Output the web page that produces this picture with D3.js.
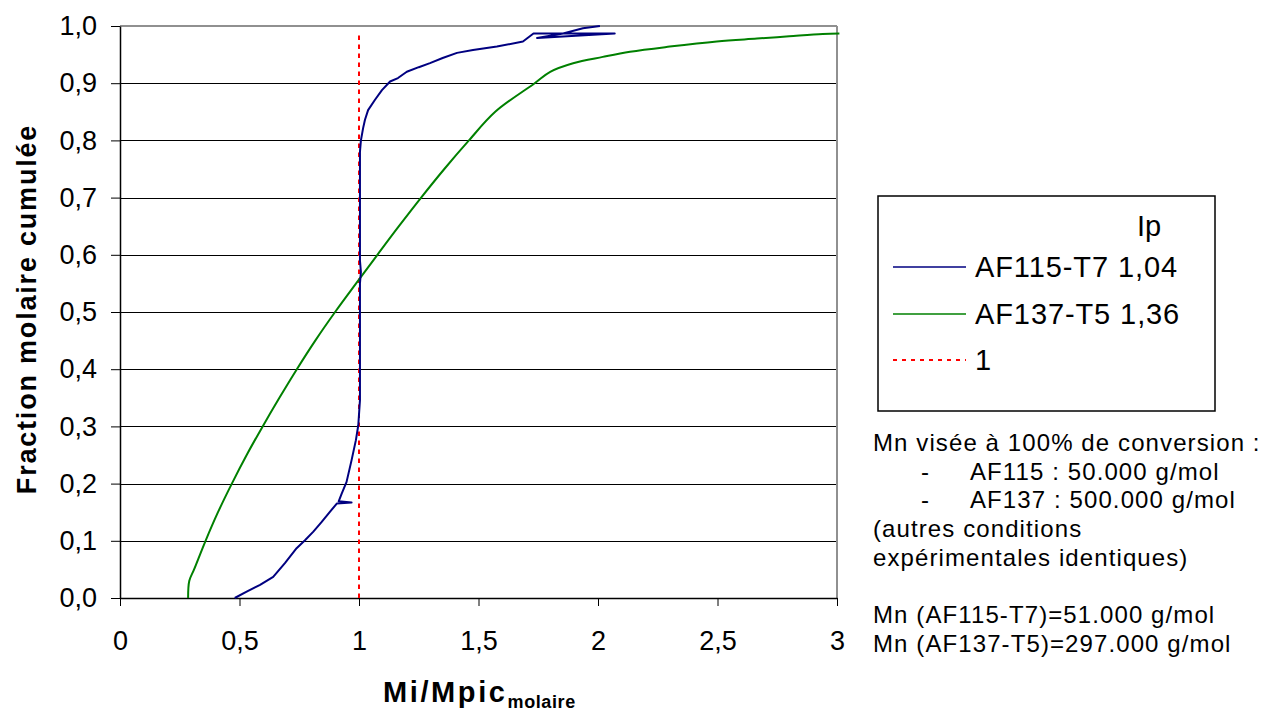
<!DOCTYPE html>
<html>
<head>
<meta charset="utf-8">
<script src="https://cdn.jsdelivr.net/npm/d3@7"></script>
<style>
  body { margin: 0; background: #fff; }
  svg { display: block; }
  text { font-family: "Liberation Sans", Arial, sans-serif; fill: #000; }
</style>
</head>
<body>
<svg id="chart" width="1270" height="715"></svg>
<script>
// ---------- data ----------
const xTickValues = [0, 0.5, 1, 1.5, 2, 2.5, 3];
const xTickLabels = ["0", "0,5", "1", "1,5", "2", "2,5", "3"];
const yTickValues = [0, 0.1, 0.2, 0.3, 0.4, 0.5, 0.6, 0.7, 0.8, 0.9, 1.0];
const yTickLabels = ["0,0", "0,1", "0,2", "0,3", "0,4", "0,5", "0,6", "0,7", "0,8", "0,9", "1,0"];

const seriesNames = ["AF115-T7 1,04", "AF137-T5 1,36", "1"];
const legendTitle = "Ip";

// AF115-T7 (Mi/Mpic, cumulative molar fraction)
const af115X = [0.48, 0.53, 0.586, 0.641, 0.69, 0.739, 0.774, 0.809, 0.844, 0.879, 0.907, 0.969, 0.915,
  0.928, 0.948, 0.969, 0.987, 0.997, 1.004, 1.004, 1.004, 1.008, 1.004, 1.004, 1.004, 1.008,
  1.017, 1.025, 1.038, 1.067, 1.096, 1.13, 1.163, 1.20, 1.25, 1.297, 1.35, 1.41, 1.477, 1.577, 1.686,
  1.73, 2.07, 1.745, 1.80, 1.854, 1.937, 2.008];
const af115Y = [0.0, 0.011, 0.023, 0.037, 0.061, 0.087, 0.101, 0.116, 0.133, 0.151, 0.165, 0.167, 0.169,
  0.183, 0.203, 0.241, 0.276, 0.302, 0.346, 0.45, 0.55, 0.57, 0.59, 0.70, 0.78, 0.80,
  0.821, 0.836, 0.853, 0.871, 0.888, 0.903, 0.909, 0.92, 0.928, 0.935, 0.944, 0.953, 0.958, 0.964, 0.973,
  0.987, 0.987, 0.979, 0.983, 0.987, 0.996, 1.0];

// AF137-T5
const af137X = [0.285, 0.29, 0.31, 0.358, 0.41, 0.468, 0.53, 0.597, 0.667, 0.74, 0.817, 0.90,
  0.988, 1.077, 1.167, 1.26, 1.357, 1.46, 1.57, 1.735, 1.80, 1.896, 2.02, 2.134, 2.30, 2.497,
  2.665, 2.80, 2.94, 3.01];
const af137Y = [0.0, 0.03, 0.05, 0.1, 0.15, 0.2, 0.25, 0.3, 0.35, 0.4, 0.45, 0.5,
  0.55, 0.6, 0.65, 0.70, 0.75, 0.8, 0.85, 0.9, 0.92, 0.935, 0.946, 0.955, 0.964, 0.973,
  0.978, 0.982, 0.986, 0.987];

// reference line x = 1
const refX = [1, 1];
const refY = [0, 0.99];

const notesLines = [
  "Mn visée à 100% de conversion :",
  "-\tAF115 : 50.000 g/mol",
  "-\tAF137 : 500.000 g/mol",
  "(autres conditions",
  "expérimentales identiques)",
  "",
  "Mn (AF115-T7)=51.000 g/mol",
  "Mn (AF137-T5)=297.000 g/mol"
];

// ---------- layout ----------
const svg = d3.select("#chart");
const plot = { left: 120, right: 837, top: 26, bottom: 598 };
const x = d3.scaleLinear().domain([0, 3]).range([plot.left, plot.right]);
const y = d3.scaleLinear().domain([0, 1]).range([plot.bottom, plot.top]);
const colors = ["#000080", "#008000", "#ff0000"];
const FONT = '"Liberation Sans", Arial, sans-serif';

// gridlines
svg.append("g").selectAll("line")
  .data(yTickValues.filter(v => v > 0 && v < 1))
  .join("line")
  .attr("x1", plot.left).attr("x2", plot.right)
  .attr("y1", d => Math.round(y(d)) + 0.5).attr("y2", d => Math.round(y(d)) + 0.5)
  .attr("stroke", "#000").attr("stroke-width", 1);

// top & right border (gray)
svg.append("line").attr("x1", plot.left).attr("x2", plot.right)
  .attr("y1", y(1)).attr("y2", y(1)).attr("stroke", "#909090").attr("stroke-width", 2);
svg.append("line").attr("x1", plot.right).attr("x2", plot.right)
  .attr("y1", y(1)).attr("y2", y(0)).attr("stroke", "#909090").attr("stroke-width", 2);

// axes
const xAxis = d3.axisBottom(x).tickValues(xTickValues)
  .tickFormat((d, i) => xTickLabels[i]).tickSize(8).tickSizeOuter(0).tickPadding(25);
const gx = svg.append("g").attr("transform", `translate(0,${plot.bottom})`).call(xAxis);
gx.select(".domain").attr("stroke", "#000").attr("stroke-width", 1.5);
gx.selectAll(".tick line").attr("stroke", "#000").attr("stroke-width", 1);
gx.selectAll(".tick text").attr("font-size", 27).attr("font-family", FONT).attr("fill", "#000");

const yAxis = d3.axisLeft(y).tickValues(yTickValues)
  .tickFormat((d, i) => yTickLabels[i]).tickSize(9).tickSizeOuter(0).tickPadding(14);
const gy = svg.append("g").attr("transform", `translate(${plot.left},0)`).call(yAxis);
gy.select(".domain").attr("stroke", "#000").attr("stroke-width", 1.5);
gy.selectAll(".tick line").attr("stroke", "#000").attr("stroke-width", 1);
gy.selectAll(".tick text").attr("font-size", 27).attr("font-family", FONT).attr("fill", "#000");

// series
const line = d3.line().x(d => x(d[0])).y(d => y(d[1]));
const smooth = d3.line().x(d => x(d[0])).y(d => y(d[1])).curve(d3.curveCatmullRom.alpha(0.5));

const gSeries = svg.append("g");
gSeries.append("path")
  .datum(refX.map((v, i) => [v, refY[i]]))
  .attr("d", line).attr("fill", "none").attr("stroke", colors[2])
  .attr("stroke-width", 2).attr("stroke-dasharray", "4.5,4.5");
gSeries.append("path")
  .datum(af137X.map((v, i) => [v, af137Y[i]]))
  .attr("d", smooth).attr("fill", "none").attr("stroke", colors[1])
  .attr("stroke-width", 2).attr("stroke-linejoin", "round");
gSeries.append("path")
  .datum(af115X.map((v, i) => [v, af115Y[i]]))
  .attr("d", line).attr("fill", "none").attr("stroke", colors[0])
  .attr("stroke-width", 2).attr("stroke-linejoin", "round");

// axis titles
svg.append("text")
  .attr("transform", "translate(36,309) rotate(-90)")
  .attr("text-anchor", "middle")
  .attr("font-size", 27).attr("font-weight", "bold").attr("letter-spacing", 1.8)
  .text("Fraction molaire cumulée");

const xt = svg.append("text").attr("x", 383).attr("y", 702)
  .attr("font-size", 29).attr("font-weight", "bold").attr("letter-spacing", 2.6);
xt.append("tspan").text("Mi/Mpic");
xt.append("tspan").attr("font-size", 18).attr("letter-spacing", 0.6).attr("dy", 6).text("molaire");

// legend
const lg = svg.append("g");
lg.append("rect").attr("x", 878).attr("y", 196).attr("width", 337).attr("height", 215)
  .attr("fill", "#fff").attr("stroke", "#000").attr("stroke-width", 1.5);
lg.append("text").attr("x", 1137).attr("y", 236).attr("font-size", 29).text(legendTitle);
const rowsY = [267, 314, 360];
seriesNames.forEach((name, i) => {
  lg.append("line").attr("x1", 893).attr("x2", 966)
    .attr("y1", rowsY[i]).attr("y2", rowsY[i])
    .attr("stroke", colors[i]).attr("stroke-width", i === 2 ? 2 : 1.5)
    .attr("stroke-dasharray", i === 2 ? "4,5" : null);
  lg.append("text").attr("x", 975).attr("y", rowsY[i] + 10)
    .attr("font-size", 29).attr("letter-spacing", 0.9).text(name);
});

// notes
const notes = svg.append("g");
notesLines.forEach((ln, i) => {
  const yy = 451 + i * 28.7;
  if (ln.startsWith("-\t")) {
    notes.append("text").attr("x", 921).attr("y", yy).attr("font-size", 24).text("-");
    notes.append("text").attr("x", 970).attr("y", yy).attr("font-size", 24)
      .attr("letter-spacing", 1.1).text(ln.slice(2));
  } else if (ln) {
    notes.append("text").attr("x", 873).attr("y", yy).attr("font-size", 24)
      .attr("letter-spacing", 1.1).text(ln);
  }
});
</script>
</body>
</html>
